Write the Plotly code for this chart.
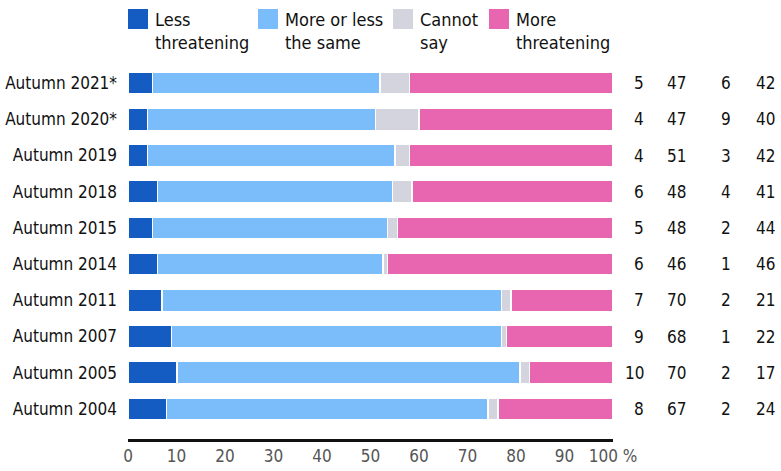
import plotly.graph_objects as go

categories = ["Autumn 2004", "Autumn 2005", "Autumn 2007", "Autumn 2011", "Autumn 2014",
              "Autumn 2015", "Autumn 2018", "Autumn 2019", "Autumn 2020*", "Autumn 2021*"]
less_threatening = [8, 10, 9, 7, 6, 5, 6, 4, 4, 5]
same = [67, 70, 68, 70, 46, 48, 48, 51, 47, 47]
cannot_say = [2, 2, 1, 2, 1, 2, 4, 3, 9, 6]
more_threatening = [24, 17, 22, 21, 46, 44, 41, 42, 40, 42]

series_names = ["Less<br>threatening", "More or less<br>the same", "Cannot<br>say", "More<br>threatening"]
series_values = [less_threatening, same, cannot_say, more_threatening]
colors = ["#145BC2", "#7ABDFA", "#D4D4DE", "#E866AF"]
tick_vals = [0, 10, 20, 30, 40, 50, 60, 70, 80, 90, 100]
tick_text = ["0", "10", "20", "30", "40", "50", "60", "70", "80", "90", "100 %"]

FONT = "DejaVu Sans Condensed, Liberation Sans Narrow, sans-serif"
FS = 17

fig = go.Figure()
for name, vals, col in zip(series_names, series_values, colors):
    fig.add_trace(go.Bar(
        y=categories, x=vals, name=name, orientation="h",
        marker=dict(color=col, line=dict(color="white", width=1.5)),
        width=0.61, showlegend=False, hoverinfo="x+y",
    ))

L, R, T, B = 128, 168, 65, 32
pw = 781 - L - R
ph = 471 - T - B

# value columns on the right (right edges in pixels)
col_px = [646, 688, 733, 777]
annotations = []
for px, vals in zip(col_px, series_values):
    for cat, v in zip(categories, vals):
        annotations.append(dict(x=(px - L) / pw, xref="paper", y=cat, yref="y", text=str(v),
                                showarrow=False, xanchor="right", yanchor="middle",
                                font=dict(family=FONT, size=FS, color="#111111")))

# custom legend
leg_sq_x = [128, 258, 393, 489]
leg_txt_x = [153, 283, 418, 514]
shapes = []
for sx, tx, name, col in zip(leg_sq_x, leg_txt_x, series_names, colors):
    shapes.append(dict(type="rect", xref="paper", yref="paper",
                       x0=(sx - L) / pw, x1=(sx + 20 - L) / pw,
                       y0=(471 - B - 29) / ph, y1=(471 - B - 9) / ph,
                       fillcolor=col, line=dict(width=0)))
    annotations.append(dict(x=(tx - L) / pw, xref="paper", y=(471 - B - 7) / ph, yref="paper",
                            text=name, showarrow=False, xanchor="left", yanchor="top", align="left",
                            font=dict(family=FONT, size=FS + 1, color="#111111")))

fig.update_layout(
    barmode="stack",
    barnorm="percent",
    width=781, height=471,
    margin=dict(l=L, r=R, t=T, b=B, autoexpand=False),
    plot_bgcolor="white", paper_bgcolor="white",
    font=dict(family=FONT, size=FS, color="#111111"),
    shapes=shapes,
    annotations=annotations,
    xaxis=dict(range=[0, 100], tickvals=tick_vals, ticktext=tick_text, showgrid=False,
               zeroline=False, showline=True, linecolor="#111111", linewidth=2.5,
               ticks="", automargin=False,
               tickfont=dict(family=FONT, size=FS, color="#555555")),
    yaxis=dict(range=[-0.83, 9.5], showgrid=False, zeroline=False, showline=False,
               ticks="", ticklabelstandoff=10, automargin=False,
               tickfont=dict(family=FONT, size=FS, color="#111111")),
)

fig.write_html("out.html", config={"displayModeBar": False},
               post_script="document.body.style.margin='0';document.body.style.padding='0';")
